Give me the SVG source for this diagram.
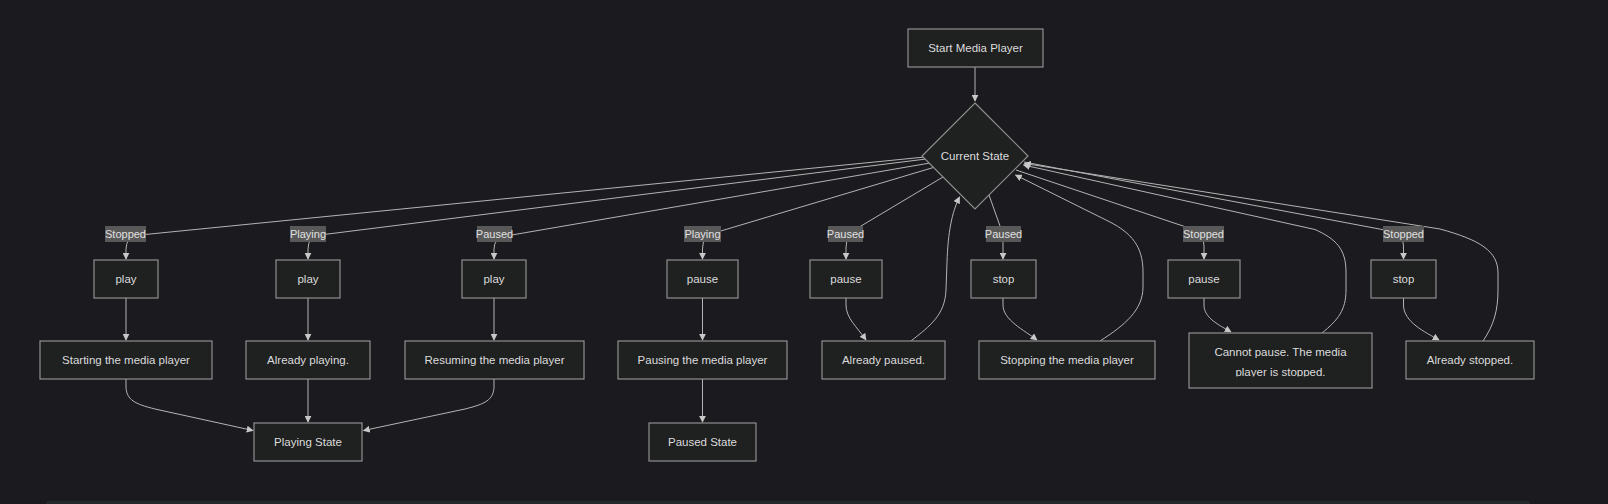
<svg xmlns="http://www.w3.org/2000/svg" width="1608" height="504" viewBox="0 0 1608 504">
<style>
.bg{fill:#1b1b1f}
.node rect,.node polygon{fill:#1f2020;stroke:#8f8f8f;stroke-width:1.2}
.node text{fill:#dcdcdc;font-family:"Liberation Sans",Arial,sans-serif;font-size:11.5px;text-anchor:middle}
.edge{fill:none;stroke:#b4b4b4;stroke-width:1;marker-end:url(#arr)}
.lbl rect{fill:#585858}
.lbl text{fill:#e0e0e0;font-family:"Liberation Sans",Arial,sans-serif;font-size:11px;text-anchor:middle}
</style>
<defs>
<marker id="arr" viewBox="0 0 10 10" refX="9" refY="5" markerWidth="7" markerHeight="7" markerUnits="userSpaceOnUse" orient="auto">
<path d="M0,0 L10,5 L0,10 z" fill="#c8c8c8"/>
</marker>
<clipPath id="clipCP"><rect x="1189" y="333" width="183" height="43.5"/></clipPath>
</defs>
<rect class="bg" x="0" y="0" width="1608" height="504"/>
<rect x="46" y="501" width="1484" height="4" rx="2" fill="#25282a"/>

<g id="edges">
<path class="edge" d="M975,67 L975,101"/>
<path class="edge" d="M925,157 L140,235 Q126,236.5 126,249 L126,259"/>
<path class="edge" d="M926,159 L320,235 Q308,236.5 308,249 L308,259"/>
<path class="edge" d="M930,163 L506,236 Q494,238 494,249 L494,259"/>
<path class="edge" d="M935,167 L714,233 Q702.5,236 702.5,249 L702.5,259"/>
<path class="edge" d="M943,177 L856,229 Q846,235 846,248 L846,259"/>
<path class="edge" d="M989,195 L1000,226 Q1003,232 1003,245 L1003,259"/>
<path class="edge" d="M1016,170 L1192,229 Q1204,233 1204,246 L1204,259"/>
<path class="edge" d="M1024,162 L1390,231 Q1403.5,234 1403.5,246 L1403.5,259"/>

<path class="edge" d="M126,298 L126,340"/>
<path class="edge" d="M308,298 L308,340"/>
<path class="edge" d="M494,298 L494,340"/>
<path class="edge" d="M702.5,298 L702.5,340"/>
<path class="edge" d="M846,298 L846,305 C846,318 857,327 866,340"/>
<path class="edge" d="M1003,298 L1003,305 C1003,320 1024,330 1037,340"/>
<path class="edge" d="M1204,298 L1204,305 C1204,318 1219,325 1231,332"/>
<path class="edge" d="M1403.5,298 L1403.5,305 C1403.5,322 1425,332 1439,340"/>

<path class="edge" d="M126,379 L126,386 C126,400 135,404 155,409 L253,430.5"/>
<path class="edge" d="M308,379 L308,422"/>
<path class="edge" d="M494,379 L494,386 C494,400 485,404 465,409 L363.5,430.5"/>
<path class="edge" d="M702.5,379 L702.5,422"/>

<path class="edge" d="M911,341 C930,326 945,315 946,290 L947,262 C948,232 952,212 959.5,197"/>
<path class="edge" d="M1100,341 C1125,325 1143,310 1143,287 L1143,272 C1143,246 1131,233 1110,222 L1015.5,175"/>
<path class="edge" d="M1322,333 C1338,320 1346,310 1346,290 L1346,272 C1346,249 1336,239 1315,229.5 L1023.5,165"/>
<path class="edge" d="M1483,341 C1494,325 1498,310 1498,290 L1498,273 C1498,251 1480,240 1440,229 L1024.5,163.5"/>
</g>

<g id="edge-labels">
<g class="lbl"><rect x="105" y="226" width="41" height="16"/><text x="125.5" y="238">Stopped</text></g>
<g class="lbl"><rect x="290" y="226" width="36" height="16"/><text x="308" y="238">Playing</text></g>
<g class="lbl"><rect x="477" y="226" width="35" height="16"/><text x="494.5" y="238">Paused</text></g>
<g class="lbl"><rect x="684" y="226" width="37" height="16"/><text x="702.5" y="238">Playing</text></g>
<g class="lbl"><rect x="828" y="226" width="35" height="16"/><text x="845.5" y="238">Paused</text></g>
<g class="lbl"><rect x="986" y="226" width="35" height="16"/><text x="1003.5" y="238">Paused</text></g>
<g class="lbl"><rect x="1183" y="226" width="41" height="16"/><text x="1203.5" y="238">Stopped</text></g>
<g class="lbl"><rect x="1383" y="226" width="41" height="16"/><text x="1403.5" y="238">Stopped</text></g>
</g>

<g id="start" class="node"><rect x="908" y="29" width="135" height="38"/><text x="975.5" y="52">Start Media Player</text></g>
<g id="current" class="node"><polygon points="975,103 1028,156 975,209 922,156"/><text x="975" y="160">Current State</text></g>

<g id="play1" class="node"><rect x="94" y="260" width="64" height="38"/><text x="126" y="283">play</text></g>
<g id="play2" class="node"><rect x="276" y="260" width="64" height="38"/><text x="308" y="283">play</text></g>
<g id="play3" class="node"><rect x="462" y="260" width="64" height="38"/><text x="494" y="283">play</text></g>
<g id="pause1" class="node"><rect x="667" y="260" width="71" height="38"/><text x="702.5" y="283">pause</text></g>
<g id="pause2" class="node"><rect x="810" y="260" width="72" height="38"/><text x="846" y="283">pause</text></g>
<g id="stop1" class="node"><rect x="971" y="260" width="65" height="38"/><text x="1003.5" y="283">stop</text></g>
<g id="pause3" class="node"><rect x="1168" y="260" width="72" height="38"/><text x="1204" y="283">pause</text></g>
<g id="stop2" class="node"><rect x="1371" y="260" width="65" height="38"/><text x="1403.5" y="283">stop</text></g>

<g id="starting" class="node"><rect x="40" y="341" width="172" height="38"/><text x="126" y="364">Starting the media player</text></g>
<g id="alreadyPlaying" class="node"><rect x="246" y="341" width="124" height="38"/><text x="308" y="364">Already playing.</text></g>
<g id="resuming" class="node"><rect x="405" y="341" width="179" height="38"/><text x="494.5" y="364">Resuming the media player</text></g>
<g id="pausing" class="node"><rect x="618" y="341" width="169" height="38"/><text x="702.5" y="364">Pausing the media player</text></g>
<g id="alreadyPaused" class="node"><rect x="822" y="341" width="123" height="38"/><text x="883.5" y="364">Already paused.</text></g>
<g id="stopping" class="node"><rect x="979" y="341" width="176" height="38"/><text x="1067" y="364">Stopping the media player</text></g>
<g id="cannotPause" class="node"><rect x="1189" y="333" width="183" height="55"/>
<g clip-path="url(#clipCP)"><text x="1280.5" y="356">Cannot pause. The media</text><text x="1280.5" y="376">player is stopped.</text></g></g>
<g id="alreadyStopped" class="node"><rect x="1406" y="341" width="128" height="38"/><text x="1470" y="364">Already stopped.</text></g>

<g id="playingState" class="node"><rect x="254" y="423" width="108" height="38"/><text x="308" y="446">Playing State</text></g>
<g id="pausedState" class="node"><rect x="649" y="423" width="107" height="38"/><text x="702.5" y="446">Paused State</text></g>
</svg>
